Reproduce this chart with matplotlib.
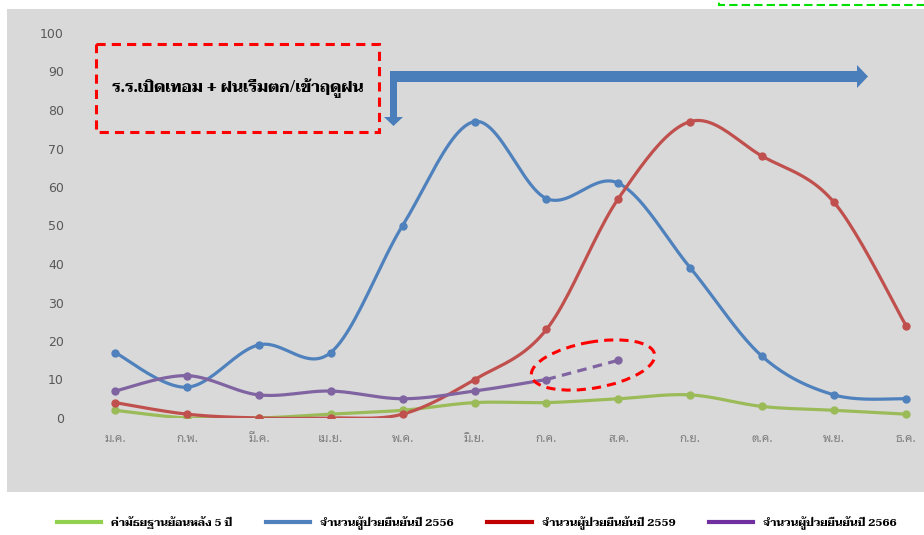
import numpy as np
import matplotlib
matplotlib.use("Agg")
import matplotlib.pyplot as plt
from matplotlib.patches import Rectangle, Ellipse, Polygon
from matplotlib.lines import Line2D
from matplotlib.transforms import Affine2D

# ข้อมูล
months = ['ม.ค.', 'ก.พ.', 'มี.ค.', 'เม.ย.', 'พ.ค.', 'มิ.ย.',
          'ก.ค.', 'ส.ค.', 'ก.ย.', 'ต.ค.', 'พ.ย.', 'ธ.ค.']
median_5y = [2, 0, 0, 1, 2, 4, 4, 5, 6, 3, 2, 1]
cases_2556 = [17, 8, 19, 17, 50, 77, 57, 61, 39, 16, 6, 5]
cases_2559 = [4, 1, 0, 0, 1, 10, 23, 57, 77, 68, 56, 24]
cases_2566 = [7, 11, 6, 7, 5, 7, 10]
forecast_2566 = [10, 15]          # ก.ค. -> ส.ค. (เส้นประ)

labels = ['ค่ามัธยฐานย้อนหลัง 5 ปี', 'จำนวนผู้ป่วยยืนยันปี 2556',
          'จำนวนผู้ป่วยยืนยันปี 2559', 'จำนวนผู้ป่วยยืนยันปี 2566']

thai_sans = ['Noto Sans Thai Looped', 'DejaVu Sans']
thai_serif = ['Taviraj', 'DejaVu Serif']

W, H = 924, 535
# พิกัดพิกเซล (มุมบนซ้าย)
PX = Affine2D().scale(1, -1).translate(0, H)


def smooth(y, n=24):
    # เส้นโค้งแบบ Catmull-Rom (เหมือน smoothed line ของ Excel)
    y = np.asarray(y, dtype=float)
    x = np.arange(len(y), dtype=float)
    px = np.concatenate([[x[0]], x, [x[-1]]])
    py = np.concatenate([[y[0]], y, [y[-1]]])
    xs, ys = [], []
    for i in range(1, len(px) - 2):
        p0, p1, p2, p3 = px[i - 1], px[i], px[i + 1], px[i + 2]
        q0, q1, q2, q3 = py[i - 1], py[i], py[i + 1], py[i + 2]
        c1x, c1y = p1 + (p2 - p0) / 6, q1 + (q2 - q0) / 6
        c2x, c2y = p2 - (p3 - p1) / 6, q2 - (q3 - q1) / 6
        t = np.linspace(0, 1, n)
        a, b, c, d = (1 - t) ** 3, 3 * (1 - t) ** 2 * t, 3 * (1 - t) * t ** 2, t ** 3
        xs.append(a * p1 + b * c1x + c * c2x + d * p2)
        ys.append(a * q1 + b * c1y + c * c2y + d * q2)
    return np.concatenate(xs), np.concatenate(ys)


fig = plt.figure(figsize=(W / 100, H / 100), dpi=100)
fig.patch.set_facecolor('white')

# พื้นหลังสีเทา
fig.add_artist(Rectangle((7, 9), W - 7, 483, transform=PX,
                         facecolor='#d9d9d9', edgecolor='none', zorder=0))
# กรอบเขียวประ มุมขวาบน
fig.add_artist(Rectangle((719, -10), 220, 15, transform=PX,
                         facecolor='none', edgecolor='#00e000', linestyle=(0, (4, 2)),
                         linewidth=1.5, zorder=1))

# แกน: x=0 ที่ 115px, x=11 ที่ 906px ; y=0 ที่ 418px, y=100 ที่ 33px
step = (906 - 115) / 11
left_px = 115 - 0.5 * step
ax = fig.add_axes([left_px / W, 1 - 418 / H, (W - left_px) / W, (418 - 33) / H])
ax.set_facecolor('none')
ax.set_xlim(-0.5, (W - 115) / step)
ax.set_ylim(0, 100)
for s in ax.spines.values():
    s.set_visible(False)

ax.set_yticks(range(0, 101, 10))
ax.set_yticklabels([str(v) for v in range(0, 101, 10)], fontsize=9, color='#595959',
                   family='DejaVu Sans')
ax.set_xticks(range(12))
ax.set_xticklabels(months, fontsize=8.5, color='#7f7f7f', family=thai_sans)
ax.tick_params(axis='both', length=0)
ax.tick_params(axis='y', pad=11)
ax.tick_params(axis='x', pad=10)

series = [(median_5y, '#9bbb59'), (cases_2556, '#4f81bd'), (cases_2559, '#c0504d')]
for vals, col in series:
    sx, sy = smooth(vals)
    ax.plot(sx, sy, color=col, linewidth=2.3, solid_capstyle='round', zorder=3)
    ax.plot(range(len(vals)), vals, 'o', color=col, markersize=5, zorder=4)

sx, sy = smooth(cases_2566)
ax.plot(sx, sy, color='#8064a2', linewidth=2.3, solid_capstyle='round', zorder=3)
ax.plot(range(len(cases_2566)), cases_2566, 'o', color='#8064a2', markersize=5, zorder=4)
fx = [len(cases_2566) - 1, len(cases_2566)]
ax.plot(fx, forecast_2566, color='#8064a2', linewidth=2.3, linestyle=(0, (3, 2)), zorder=3)
ax.plot(fx[-1], forecast_2566[-1], 'o', color='#8064a2', markersize=5, zorder=4)

# วงรีประสีแดง
fig.add_artist(Ellipse((593, 365), 125, 46, angle=-10, transform=PX,
                       facecolor='none', edgecolor='#ff0000', linewidth=2.2,
                       linestyle=(0, (3, 2)), zorder=5))

# กล่องข้อความ
fig.add_artist(Rectangle((96, 44), 283, 88, transform=PX,
                         facecolor='none', edgecolor='#ff0000', linewidth=2.2,
                         linestyle=(0, (3, 2)), zorder=5))
fig.text(238 / W, 1 - 88 / H, 'ร.ร.เปิดเทอม + ฝนเริ่มตก/เข้าฤดูฝน', ha='center', va='center',
         fontsize=11.4, fontweight='bold', family=thai_serif, color='black')

# ลูกศรสีน้ำเงิน
arrow_pts = [(390, 71), (857, 71), (857, 65), (868, 76.5), (857, 88), (857, 82),
             (397, 82), (397, 117), (403, 117), (393.5, 126), (384, 117), (390, 117)]
fig.add_artist(Polygon(arrow_pts, closed=True, transform=PX,
                       facecolor='#4a7ebb', edgecolor='none', zorder=5))

# คำอธิบาย
leg_cols = ['#92d050', '#4f81bd', '#c00000', '#7030a0']
handles = [Line2D([], [], color=c, linewidth=3) for c in leg_cols]
leg = fig.legend(handles, labels, loc='center', bbox_to_anchor=(477 / W, 1 - 523 / H), ncol=4,
                 frameon=False, handlelength=4.0, columnspacing=3.0, handletextpad=0.9,
                 prop={'family': thai_serif, 'weight': 'bold', 'size': 8})

fig.savefig('out.png', dpi=100)
